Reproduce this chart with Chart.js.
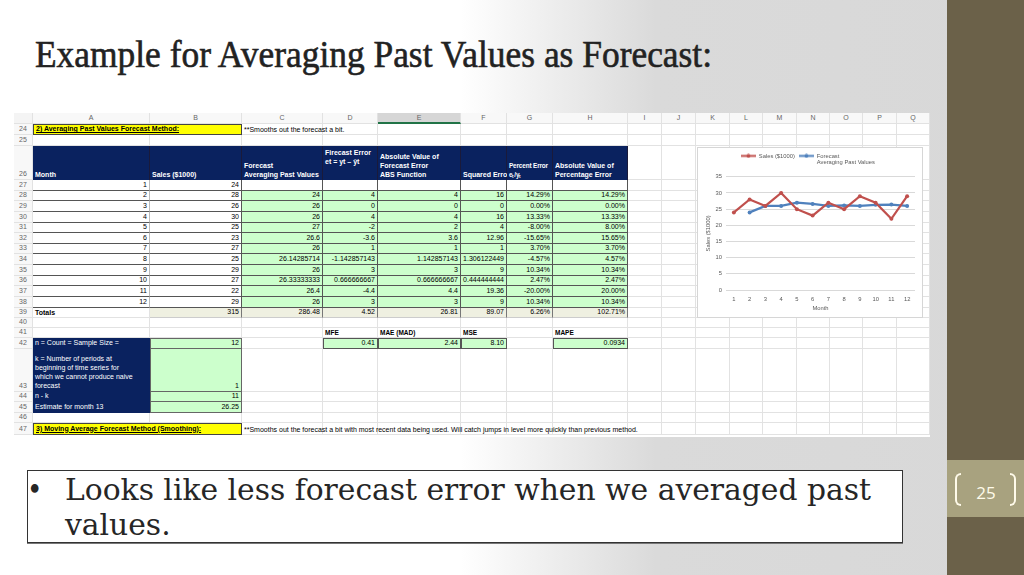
<!DOCTYPE html>
<html><head><meta charset="utf-8">
<script src="https://cdn.jsdelivr.net/npm/chart.js"></script>
<style>
html,body{margin:0;padding:0;}
body{width:1024px;height:575px;position:relative;overflow:hidden;
 background:linear-gradient(90deg,#ffffff 0%,#ffffff 45%,#dadada 64%,#d8d8d8 100%);}
#side{position:absolute;left:947px;top:0;width:77px;height:575px;background:#6b6149;}
#numbox{position:absolute;left:947px;top:460px;width:77px;height:57px;background:#a8a27f;}
.br{position:absolute;top:473px;width:6px;height:33px;border:2px solid #fffbea;box-sizing:border-box;}
#brl{left:955px;border-right:none;border-radius:6px 0 0 6px;}
#brr{left:1010px;border-left:none;border-radius:0 6px 6px 0;}
#pnum{position:absolute;left:966px;width:40px;top:481px;text-align:center;font:17px 'Open Sans',sans-serif;color:#fffbea;}
#title{position:absolute;left:35px;top:35px;font:38px/38px 'Liberation Serif',serif;color:#222;-webkit-text-stroke:0.6px #222;white-space:nowrap;transform-origin:0 0;}
#sheet{position:absolute;left:14px;top:113px;width:916px;height:324px;background:#fff;}
.c{position:absolute;box-sizing:border-box;font:7px/9px 'Liberation Sans Narrow','Liberation Sans',sans-serif;color:#000;
 display:flex;flex-direction:column;justify-content:flex-end;padding:0 2px 1px 2px;white-space:nowrap;overflow:visible;}
.g{border-right:1px solid #e2e2e2;border-bottom:1px solid #e2e2e2;}
.r{align-items:flex-end;text-align:right;}
.nv{background:#0a225f;color:#fff;}
.b{font-weight:bold;}
.gr{background:#ccffcc;}
.bd{border-right:1px solid #555;border-bottom:1px solid #555;}
.hd{color:#666;justify-content:center;align-items:center;font-size:7px;}
#chartbox{position:absolute;left:697px;top:147px;width:226px;height:171px;background:#fff;box-sizing:border-box;border:1px solid #d6d6d6;}
#chart{position:absolute;left:697px;top:147px;}
#bbox{position:absolute;left:27px;top:470px;width:876px;height:73px;background:#fff;border:1px solid #333;box-sizing:border-box;box-shadow:0 1px 0 #777;}
.bl{position:absolute;font:29px/35px 'DejaVu Serif',serif;font-stretch:condensed;color:#262626;white-space:nowrap;transform-origin:0 0;}
</style></head>
<body>
<div id="side"></div><div id="numbox"></div>
<div class="br" id="brl"></div><div class="br" id="brr"></div>
<div id="pnum">25</div>
<div id="title">Example for Averaging Past Values as Forecast:</div>
<div id="sheet"></div>
<div id="chartbox"></div>
<canvas id="chart" width="226" height="171"></canvas>
<div id="bbox"></div>
<div class="bl" id="bul" style="left:27px;top:473px;">•</div>
<div class="bl" id="l1" style="left:65px;top:473px;">Looks like less forecast error when we averaged past</div>
<div class="bl" id="l2" style="left:65px;top:508px;">values.</div>
<script>
// ---------- data ----------
const months = [1,2,3,4,5,6,7,8,9,10,11,12];
const sales = [24,28,26,30,25,23,27,25,29,27,22,29];
const forecast = [null,24,26,26,27,26.6,26,26.14285714,26,26.33333333,26.4,26];
const errors = [null,4,0,4,-2,-3.6,1,-1.142857143,3,0.666666667,-4.4,3];
const absErrors = [null,4,0,4,2,3.6,1,1.142857143,3,0.666666667,4.4,3];
const sqErrors = [null,16,0,16,4,12.96,1,1.306122449,9,0.444444444,19.36,9];
const pctErrors = ['','14.29%','0.00%','13.33%','-8.00%','-15.65%','3.70%','-4.57%','10.34%','2.47%','-20.00%','10.34%'];
const absPctErrors = ['','14.29%','0.00%','13.33%','8.00%','15.65%','3.70%','4.57%','10.34%','2.47%','20.00%','10.34%'];
const totals = ['315','286.48','4.52','26.81','89.07','6.26%','102.71%'];
const statLabels = ['MFE','MAE (MAD)','MSE','MAPE'];
const statValues = ['0.41','2.44','8.10','0.0934'];
const paramLabels = [['n = Count = Sample Size ='],['k = Number of periods at','beginning of time series for','which we cannot produce naive','forecast'],['n - k'],['Estimate for month 13']];
const paramValues = ['12','1','11','26.25'];
const colLetters = ['A','B','C','D','E','F','G','H','I','J','K','L','M','N','O','P','Q'];
const headerTexts = [['Month'],['Sales ($1000)'],['Forecast','Averaging Past Values'],['Firecast Error','et = yt – ŷt'],['Absolute Value of','Forecast Error','ABS Function'],['Squared Error'],['Percent Error','eₜ/yₜ'],['Absolute Value of','Percentage Error']];
const section2 = '2) Averaging Past Values Forecast Method:';
const note2 = '**Smooths out the forecast a bit.';
const section3 = '3) Moving Average Forecast Method (Smoothing):';
const note3 = '**Smooths out the forecast a bit with most recent data being used. Will catch jumps in level more quickly than previous method.';

// ---------- sheet layout ----------
const OX=14, OY=113;
const X=[14,33,150,242,323,378,461,507,553,628,662,696,730,763,797,830,863,897,930];
const R={hdr:[113,124],24:[124,135],25:[135,146],26:[146,180]};
for(let r=27;r<=38;r++){R[r]=[180+(r-27)*10.64,180+(r-26)*10.64];}
Object.assign(R,{39:[307.7,317.7],40:[317.7,328],41:[328,338],42:[338,348.5],43:[348.5,392],44:[392,402],45:[402,412.5],46:[412.5,423],47:[423,434.5]});
const rowKeys=[24,25,26,27,28,29,30,31,32,33,34,35,36,37,38,39,40,41,42,43,44,45,46,47];
const sheet=document.getElementById('sheet');
function cell(c1,c2,r1,r2,lines,cls,extra){
  const d=document.createElement('div');
  d.className='c '+(cls||'');
  d.style.left=(X[c1]-OX)+'px'; d.style.width=(X[c2+1]-X[c1])+'px';
  d.style.top=(R[r1][0]-OY)+'px'; d.style.height=(R[r2][1]-R[r1][0])+'px';
  if(lines!=null){ (Array.isArray(lines)?lines:[lines]).forEach(t=>{const s=document.createElement('div');s.textContent=t;d.appendChild(s);}); }
  if(extra) Object.assign(d.style,extra);
  sheet.appendChild(d); return d;
}
// column header row
cell(0,0,'hdr','hdr','', 'g', {background:'#f4f4f4'});
colLetters.forEach((L,i)=>{
  const c=cell(i+1,i+1,'hdr','hdr',L,'g hd',{background:i===4?'#d6d6d6':'#f8f8f8'});
  if(i===4) c.style.borderBottom='2px solid #217346';
});
// grid + row numbers
rowKeys.forEach(r=>{
  cell(0,0,r,r,String(r),'g hd',{background:'#f8f8f8',justifyContent:'flex-end',paddingBottom:'1px'});
  for(let c=1;c<=17;c++) cell(c,c,r,r,null,'g');
});
// row 24
cell(1,2,24,24,section2,'b',{background:'#ffff00',border:'1px solid #444',textDecoration:'underline'});
cell(3,3,24,24,note2,'',{});
// header row 26
headerTexts.forEach((t,i)=>{
  const top = (i===3);
  const ex={justifyContent:top?'flex-start':'flex-end',paddingTop:'2px',borderRight:'1px solid #1a1a3a'};
  if(i===6){ex.fontSize='6.4px';ex.letterSpacing='-0.15px';}
  cell(i+1,i+1,26,26,t,'nv b',ex);
});
// data rows
months.forEach((m,i)=>{
  const r=27+i;
  cell(1,1,r,r,String(m),'r bd',{borderRight:'1px solid #bbb'});
  cell(2,2,r,r,String(sales[i]),'r bd');
  const vals=[forecast[i],errors[i],absErrors[i],sqErrors[i],pctErrors[i],absPctErrors[i]];
  vals.forEach((v,j)=>{
    const txt = (v===null||v==='')?'':String(v);
    cell(3+j,3+j,r,r,txt,'r bd'+(i>0?' gr':''),i>0?{}:{background:'#fff'});
  });
});
// totals
cell(1,1,39,39,'Totals','b',{});
totals.forEach((t,j)=>cell(2+j,2+j,39,39,t,'r',{background:'#eff0e1',borderRight:'1px solid #777',borderBottom:'1px solid #ccc'}));
// stats
const statCols=[4,5,6,8];
statLabels.forEach((l,j)=>{
  cell(statCols[j],statCols[j],41,41,l,'b',{fontSize:'6.5px'});
  cell(statCols[j],statCols[j],42,42,statValues[j],'r gr',{border:'1px solid #555'});
});
// parameters
paramLabels.forEach((l,j)=>{
  cell(1,1,42+j,42+j,l,'nv',{borderBottom:'1px solid #0a225f'});
  cell(2,2,42+j,42+j,paramValues[j],'r gr',{border:'1px solid #666',borderTop:j?'none':'1px solid #666'});
});
// row 47
cell(1,2,47,47,section3,'b',{background:'#ffff00',border:'1px solid #444',textDecoration:'underline'});
cell(3,3,47,47,note3,'',{});

// ---------- fit text ----------
function fit(el,target){const w=el.getBoundingClientRect().width;const s=target/w;el.style.transform='scaleX('+s+')';return s;}
fit(document.getElementById('title'),677);
const s1=fit(document.getElementById('l1'),806);
document.getElementById('l2').style.transform='scaleX('+s1+')';

// ---------- chart ----------
const FONT={family:"'Liberation Sans Narrow','Liberation Sans',sans-serif",size:5.8};
const TXT='#595959';
const RED='#c0504d', BLUE='#4f81bd';
function mark(color){const c=document.createElement('canvas');c.width=15;c.height=5;const g=c.getContext('2d');
  g.strokeStyle=color;g.lineWidth=2;g.beginPath();g.moveTo(0,2.5);g.lineTo(15,2.5);g.stroke();
  g.fillStyle=color;g.beginPath();g.arc(7.5,2.5,2,0,Math.PI*2);g.fill();return c;}
const marks=[mark(RED),mark(BLUE)];
// extra room under the legend, and centre it on its longest text line
const legendSpacer={id:'legendSpacer',afterInit(chart){const lg=chart.legend;if(!lg)return;const f=lg.fit;
  lg.fit=function(){f.call(this);this.height+=8;if(this.lineWidths&&this.lineWidths.length)this.lineWidths[0]-=25;};}};
new Chart(document.getElementById('chart'),{
  type:'line',
  data:{labels:months,datasets:[
    {label:'Sales ($1000)',data:sales,borderColor:RED,backgroundColor:RED,borderWidth:2.2,pointRadius:2,pointBorderWidth:0,pointBackgroundColor:RED,tension:0},
    {label:['Forecast','Averaging Past Values'],data:forecast,borderColor:BLUE,backgroundColor:BLUE,borderWidth:2.2,pointRadius:2,pointBorderWidth:0,pointBackgroundColor:BLUE,tension:0}
  ]},
  plugins:[legendSpacer],
  options:{
    responsive:false,animation:false,
    layout:{padding:{left:3,right:8,top:2,bottom:4}},
    plugins:{
      tooltip:{enabled:false},
      legend:{position:'top',labels:{font:FONT,color:TXT,usePointStyle:true,pointStyleWidth:15,boxHeight:5,padding:4,
        generateLabels(chart){const items=Chart.defaults.plugins.legend.labels.generateLabels(chart);items.forEach((it,i)=>{it.pointStyle=marks[i];});return items;}}}
    },
    scales:{
      x:{offset:true,grid:{display:false,drawTicks:false},border:{display:false},
         ticks:{font:FONT,color:TXT,padding:6,maxRotation:0},
         title:{display:true,text:'Month',font:FONT,color:TXT,padding:{top:0,bottom:2}},
         afterFit(s){s.height=24;}},
      y:{min:0,max:35,grid:{color:'#d9d9d9',drawTicks:false},border:{display:false},
         ticks:{stepSize:5,font:FONT,color:TXT,padding:4},
         title:{display:true,text:'Sales ($1000)',font:FONT,color:TXT,padding:{top:5,bottom:0}},
         afterFit(s){s.width=26;}}
    }
  }
});
</script>
</body></html>
